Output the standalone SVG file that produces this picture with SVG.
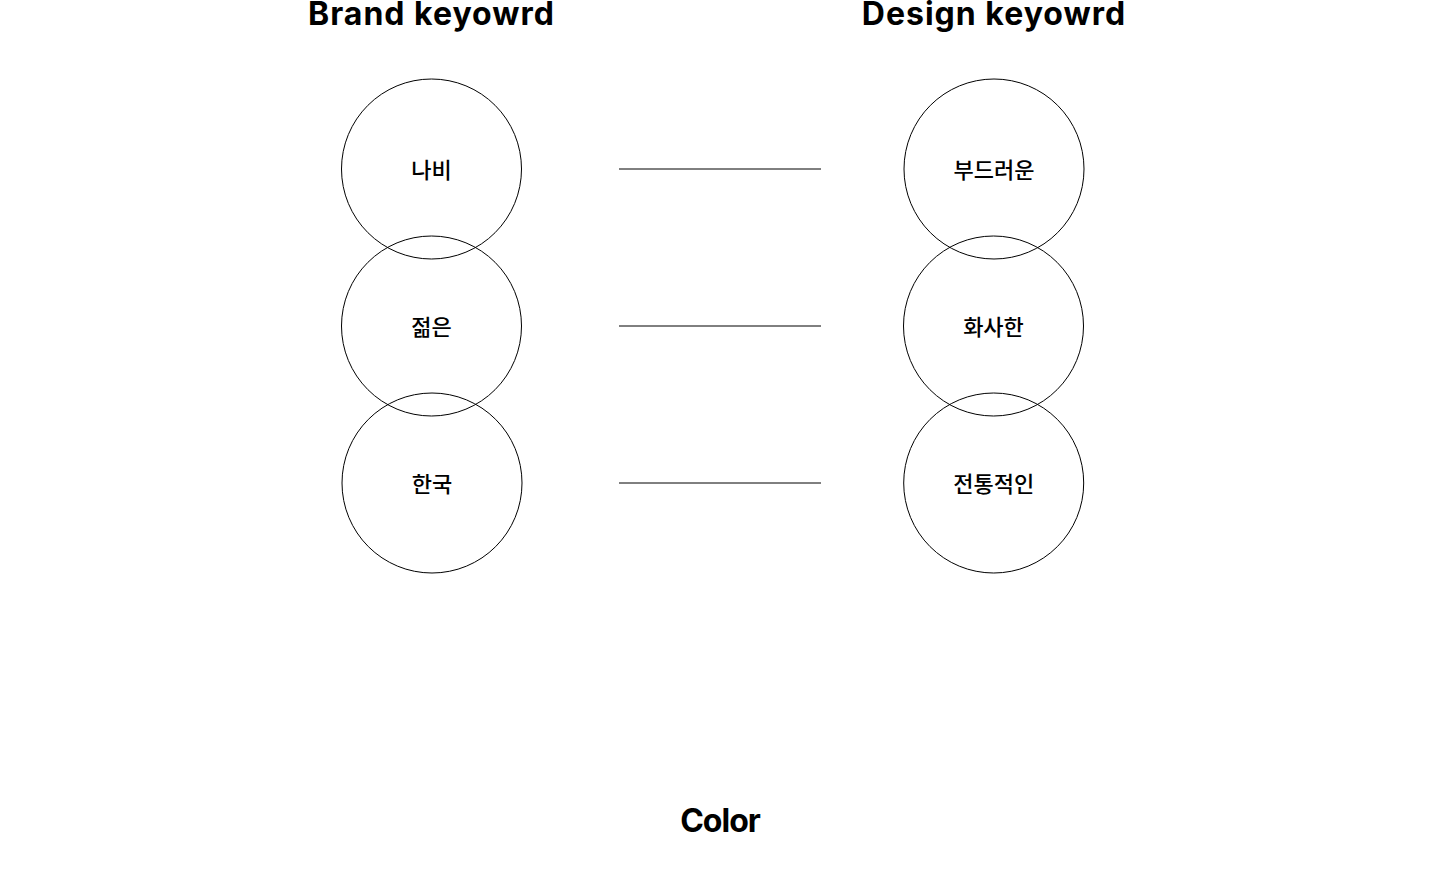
<svg xmlns="http://www.w3.org/2000/svg" width="1440" height="870" viewBox="0 0 1440 870">
<style>
.title{font-family:Inter,"Liberation Sans",sans-serif;font-weight:700;font-size:32px;fill:#000;text-anchor:middle}
.node circle{fill:none;stroke:#000;stroke-width:1}
.node text{font-family:"Noto Sans CJK KR","Noto Sans",sans-serif;font-weight:500;font-size:22px;fill:#000;text-anchor:middle}
.conn line{stroke:#000;stroke-width:1}
</style>
<rect width="1440" height="870" fill="#fff"/>
<text class="title" x="431.5" y="25" letter-spacing="1">Brand keyowrd</text>
<text class="title" x="994" y="25" letter-spacing="1">Design keyowrd</text>
<text class="title" x="720" y="832" letter-spacing="-1">Color</text>
<g id="connectors" class="conn">
<line x1="619" y1="169" x2="821" y2="169"/>
<line x1="619" y1="326" x2="821" y2="326"/>
<line x1="619" y1="483" x2="821" y2="483"/>
</g>
<g id="n-nabi" class="node"><circle cx="431.5" cy="169" r="90"/><text x="431.5" y="178">나비</text></g>
<g id="n-jeolmeun" class="node"><circle cx="431.5" cy="326" r="90"/><text x="431.5" y="335">젊은</text></g>
<g id="n-hanguk" class="node"><circle cx="432" cy="483" r="90"/><text x="432" y="492">한국</text></g>
<g id="n-budeureoun" class="node"><circle cx="994" cy="169" r="90"/><text x="994" y="178">부드러운</text></g>
<g id="n-hwasahan" class="node"><circle cx="993.5" cy="326" r="90"/><text x="993.5" y="335">화사한</text></g>
<g id="n-jeontongjeogin" class="node"><circle cx="993.7" cy="483" r="90"/><text x="993.7" y="492">전통적인</text></g>
</svg>
